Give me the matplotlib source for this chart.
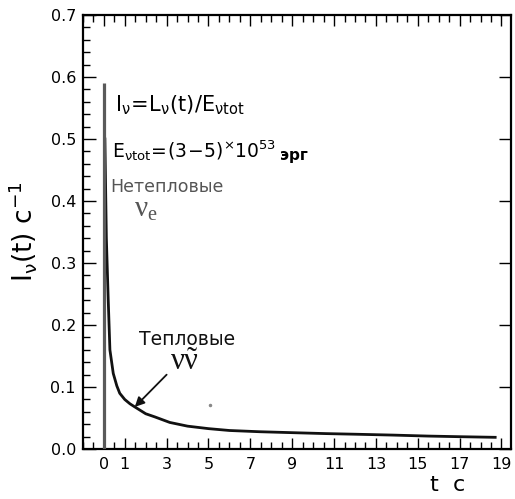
import matplotlib
matplotlib.use("Agg")
import matplotlib.pyplot as plt
from matplotlib.ticker import MultipleLocator, FixedLocator

plt.rcParams['mathtext.fontset'] = 'dejavusans'

# thermal neutrino curve
t_thermal = [0.05, 0.12, 0.21, 0.29, 0.45, 0.62, 0.76, 1.0, 1.25, 1.48, 2.0, 2.43, 3.15,
             4.0, 5.0, 6.0, 7.45, 9.0, 10.6, 12.0, 13.8, 15.5, 17.0, 18.7]
I_thermal = [0.50, 0.34, 0.24, 0.16, 0.122, 0.102, 0.090, 0.080, 0.073, 0.068, 0.057, 0.052, 0.043,
             0.037, 0.033, 0.030, 0.028, 0.0265, 0.025, 0.024, 0.0226, 0.021, 0.020, 0.019]

# non-thermal burst at t=0
t_burst = [0.0, 0.0]
I_burst = [0.0, 0.59]

# stray dot in the original scan
t_dot = [5.06]
I_dot = [0.071]

xtick_vals = [0, 1, 3, 5, 7, 9, 11, 13, 15, 17, 19]
ytick_vals = [0.0, 0.1, 0.2, 0.3, 0.4, 0.5, 0.6, 0.7]

fig = plt.figure(figsize=(5.15, 4.99), dpi=100)
ax = fig.add_axes([0.161, 0.100, 0.831, 0.870])

ax.plot(t_thermal, I_thermal, color='#111111', lw=2.0, zorder=2)
ax.plot(t_burst, I_burst, color='#5a5a5a', lw=2.3, solid_capstyle='butt', zorder=3)
ax.plot(t_dot, I_dot, ls='none', marker='o', ms=1.5, color='#888888')

ax.set_xlim(-1.0, 19.45)
ax.set_ylim(0, 0.7)

ax.xaxis.set_major_locator(FixedLocator(xtick_vals))
ax.xaxis.set_minor_locator(MultipleLocator(0.5))
ax.yaxis.set_major_locator(FixedLocator(ytick_vals))
ax.yaxis.set_minor_locator(MultipleLocator(0.02))
ax.set_yticklabels(['%.1f' % v for v in ytick_vals])

ax.tick_params(which='both', direction='in', top=True, right=True,
               labelsize=11.5, width=1.0, pad=6)
ax.tick_params(which='major', length=8)
ax.tick_params(which='minor', length=5)
ax.tick_params(axis='y', which='major', length=9, pad=5)
ax.tick_params(axis='y', which='minor', right=False)
for sp in ax.spines.values():
    sp.set_linewidth(1.6)

ax.set_ylabel(r'$\mathregular{I_{\nu}(t)}$ с$^{-1}$', fontsize=19, labelpad=8)
ax.text(15.6, -0.058, 't  с', fontsize=16, ha='left', va='center')

ax.text(0.55, 0.545, r'$\mathregular{I_{\nu}\!=\!L_{\nu}(t)/E_{\nu tot}}$', fontsize=15)
etxt = ax.text(0.38, 0.470,
               r'$\mathregular{E_{\nu tot}\!=\!(3\!-\!5)}^{\!\times}\!\mathregular{10^{53}}$',
               fontsize=13.5)
ax.annotate('эрг', xy=(1, 0), xycoords=etxt, xytext=(3, 0), textcoords='offset points',
            fontsize=11, fontweight='bold', va='bottom')
ax.text(0.3, 0.415, 'Нетепловые', fontsize=12.5, color='#555555')
ax.text(1.45, 0.375, r'$\mathregular{ν_e}$', fontsize=21, color='#555555',
        family=['Liberation Serif', 'DejaVu Serif'])

ax.text(1.7, 0.168, 'Тепловые', fontsize=13.5, color='#111111')
ax.text(3.15, 0.128, r'$\mathregular{ν\tilde{ν}}$', fontsize=22, color='#111111',
        family=['Liberation Serif', 'DejaVu Serif'])
ax.annotate('', xy=(1.48, 0.068), xytext=(3.0, 0.12),
            arrowprops=dict(arrowstyle='-|>', color='#111111', lw=1.3,
                            mutation_scale=14, shrinkA=0, shrinkB=0))

fig.savefig('out.png', dpi=100)
